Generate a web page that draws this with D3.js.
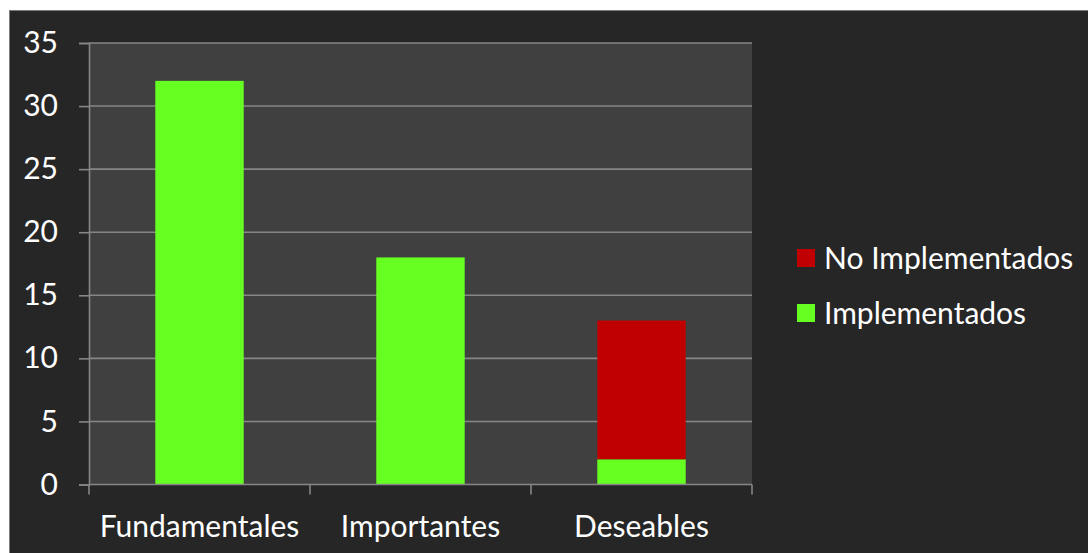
<!DOCTYPE html>
<html>
<head>
<meta charset="utf-8">
<script src="https://cdn.jsdelivr.net/npm/d3@7"></script>
<style>
  html, body { margin: 0; padding: 0; background: #ffffff; }
  svg { display: block; }
</style>
</head>
<body>
<svg id="chart" width="1088" height="553"></svg>
<script>
// Requirement counts per priority category
const categories = ["Fundamentales", "Importantes", "Deseables"];
const implementados = [32, 18, 2];
const noImplementados = [0, 0, 11];
const seriesNames = ["Implementados", "No Implementados"];
const seriesColors = ["#66ff22", "#c00000"];
const yTicks = [0, 5, 10, 15, 20, 25, 30, 35];

const svg = d3.select("#chart");
const W = 1088, H = 553;
const fontFamily = "Lato, 'Open Sans', sans-serif";
const fontSize = "30px";

// Dark chart panel
svg.append("rect")
  .attr("x", 9.5).attr("y", 10.5)
  .attr("width", W).attr("height", H)
  .attr("fill", "#262626")
  .attr("stroke", "#7a7a7a").attr("stroke-width", 1);

const plot = { left: 89, right: 752, top: 43, bottom: 484.5 };

// Plot area background
svg.append("rect")
  .attr("x", plot.left).attr("y", plot.top)
  .attr("width", plot.right - plot.left).attr("height", plot.bottom - plot.top)
  .attr("fill", "#404040");

const x = d3.scaleBand()
  .domain(categories)
  .range([plot.left, plot.right])
  .paddingInner(0.6)
  .paddingOuter(0.3);

const y = d3.scaleLinear()
  .domain([0, 35])
  .range([plot.bottom, plot.top]);

// Horizontal gridlines
svg.append("g")
  .selectAll("line")
  .data(yTicks.filter(t => t > 0))
  .join("line")
  .attr("x1", plot.left).attr("x2", plot.right)
  .attr("y1", d => y(d)).attr("y2", d => y(d))
  .attr("stroke", "#868686").attr("stroke-width", 1.6);

// Stacked bars
const rows = categories.map((c, i) => ({
  category: c,
  "Implementados": implementados[i],
  "No Implementados": noImplementados[i]
}));
const stacked = d3.stack().keys(seriesNames)(rows);

svg.append("g")
  .selectAll("g")
  .data(stacked)
  .join("g")
  .attr("fill", (d, i) => seriesColors[i])
  .selectAll("rect")
  .data(d => d.filter(s => s[1] - s[0] > 0))
  .join("rect")
  .attr("x", d => x(d.data.category))
  .attr("width", x.bandwidth())
  .attr("y", d => y(d[1]))
  .attr("height", d => y(d[0]) - y(d[1]));

// Y axis
const yAxis = svg.append("g")
  .attr("transform", `translate(${plot.left},0)`)
  .call(d3.axisLeft(y).tickValues(yTicks).tickSize(10).tickPadding(21));
yAxis.select(".domain").attr("stroke", "#868686").attr("stroke-width", 1.6);
yAxis.selectAll(".tick line").attr("stroke", "#868686").attr("stroke-width", 1.6);
yAxis.selectAll(".tick text")
  .attr("fill", "#ffffff")
  .style("font-family", fontFamily)
  .style("font-size", fontSize);

// X axis with category separators
const xAxisG = svg.append("g");
xAxisG.append("line")
  .attr("x1", plot.left).attr("x2", plot.right)
  .attr("y1", plot.bottom).attr("y2", plot.bottom)
  .attr("stroke", "#868686").attr("stroke-width", 1.6);
const step = x.step();
const boundaries = d3.range(categories.length + 1).map(i => plot.left + i * step);
xAxisG.selectAll("line.sep")
  .data(boundaries)
  .join("line")
  .attr("class", "sep")
  .attr("x1", d => d).attr("x2", d => d)
  .attr("y1", plot.bottom).attr("y2", plot.bottom + 10)
  .attr("stroke", "#868686").attr("stroke-width", 1.6);
xAxisG.selectAll("text")
  .data(categories)
  .join("text")
  .attr("x", d => x(d) + x.bandwidth() / 2)
  .attr("y", 537)
  .attr("text-anchor", "middle")
  .attr("fill", "#ffffff")
  .style("font-family", fontFamily)
  .style("font-size", fontSize)
  .text(d => d);

// Legend (No Implementados on top)
const legendItems = [
  { name: seriesNames[1], color: seriesColors[1] },
  { name: seriesNames[0], color: seriesColors[0] }
];
const legend = svg.append("g").attr("transform", "translate(797,249)");
const li = legend.selectAll("g")
  .data(legendItems)
  .join("g")
  .attr("transform", (d, i) => `translate(0,${i * 55})`);
li.append("rect")
  .attr("width", 18).attr("height", 18)
  .attr("fill", d => d.color);
li.append("text")
  .attr("x", 27).attr("y", 9)
  .attr("dy", "0.35em")
  .attr("fill", "#ffffff")
  .style("font-family", fontFamily)
  .style("font-size", fontSize)
  .text(d => d.name);
</script>
</body>
</html>
